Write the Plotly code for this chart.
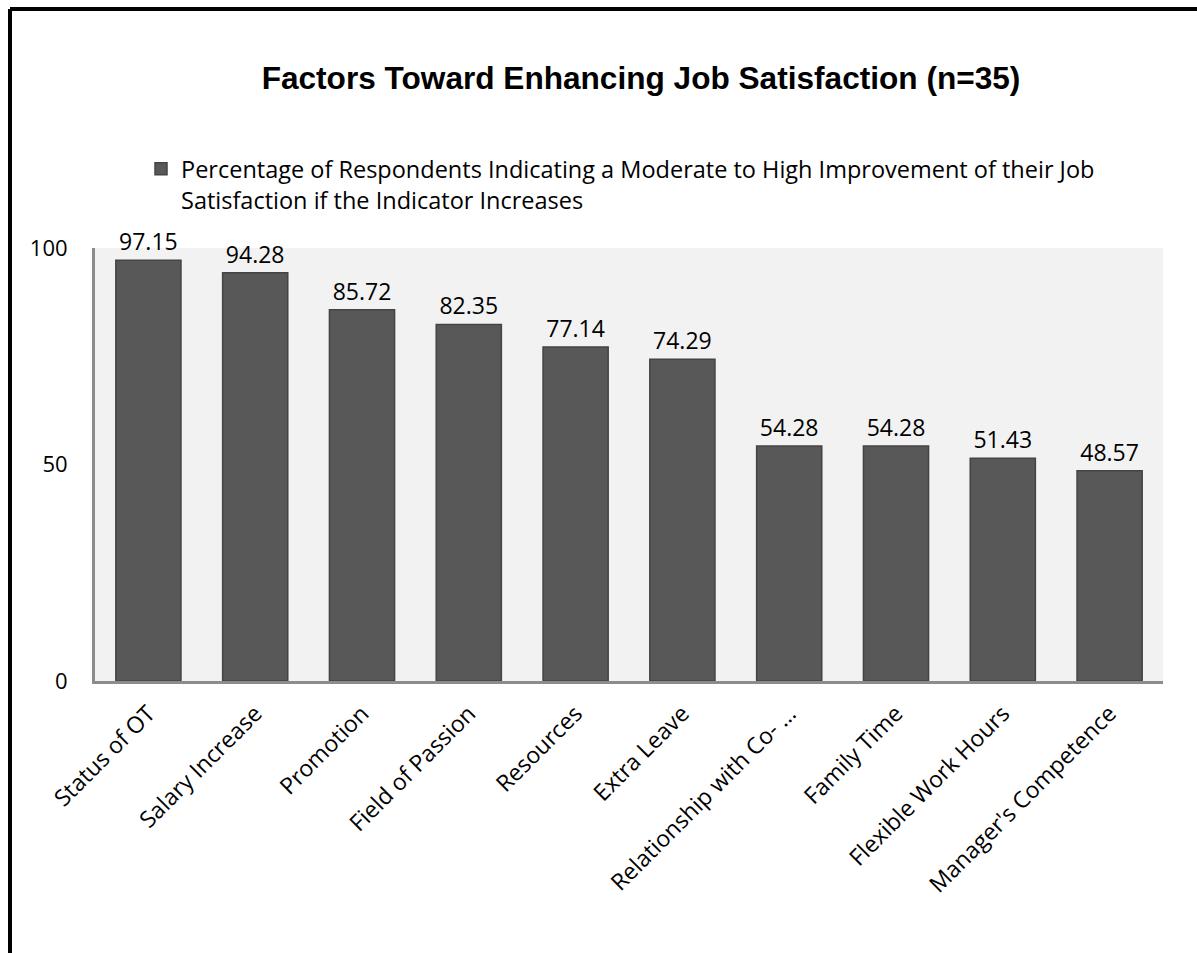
import plotly.graph_objects as go

# Survey results: share of respondents (n=35) reporting moderate-to-high improvement
factors = [
    "Status of OT",
    "Salary Increase",
    "Promotion",
    "Field of Passion",
    "Resources",
    "Extra Leave",
    "Relationship with Co- \u2026",
    "Family Time",
    "Flexible Work Hours",
    "Manager's Competence",
]
percentages = [97.15, 94.28, 85.72, 82.35, 77.14, 74.29, 54.28, 54.28, 51.43, 48.57]
series_name = (
    "Percentage of Respondents Indicating a Moderate to High Improvement of their Job"
    "<br>Satisfaction if the Indicator Increases"
)
y_ticks = [0, 50, 100]

W, H = 1197, 953
L, R, T, B = 95, 34, 248, 272
plot_w = W - L - R
plot_h = H - T - B

BODY_FONT = "Open Sans, Noto Sans, sans-serif"

fig = go.Figure()
fig.add_trace(
    go.Bar(
        x=factors,
        y=percentages,
        name=series_name,
        marker=dict(color="#585858", line=dict(color="#444444", width=1.5)),
        text=[f"{v:.2f}" for v in percentages],
        textposition="outside",
        textfont=dict(family=BODY_FONT, size=23, color="#000000"),
        cliponaxis=False,
    )
)


def px_to_paper_x(px):
    return (px - L) / plot_w


def px_to_paper_y(py):
    return (H - B - py) / plot_h


# Outer frame (left and top edges visible within the canvas)
frame_left = px_to_paper_x(10)
frame_top = px_to_paper_y(9)
fig.add_shape(type="line", xref="paper", yref="paper",
              x0=frame_left, x1=px_to_paper_x(W + 10), y0=frame_top, y1=frame_top,
              line=dict(color="#000000", width=4))
fig.add_shape(type="line", xref="paper", yref="paper",
              x0=frame_left, x1=frame_left, y0=frame_top, y1=px_to_paper_y(H + 10),
              line=dict(color="#000000", width=4))

fig.update_layout(
    width=W,
    height=H,
    margin=dict(l=L, r=R, t=T, b=B),
    paper_bgcolor="#ffffff",
    plot_bgcolor="#f2f2f2",
    bargap=0.39,
    title=dict(
        text="<b>Factors Toward Enhancing Job Satisfaction (n=35)</b>",
        x=641 / W,
        xanchor="center",
        y=1 - 78 / H,
        yanchor="middle",
        font=dict(family="Liberation Sans, Arial, sans-serif", size=31.6, color="#000000"),
    ),
    showlegend=True,
    legend=dict(
        orientation="h",
        x=px_to_paper_x(141),
        xanchor="left",
        y=px_to_paper_y(147),
        yanchor="top",
        valign="top",
        font=dict(family=BODY_FONT, size=23.5, color="#000000"),
        bgcolor="rgba(0,0,0,0)",
    ),
    xaxis=dict(
        tickangle=-45,
        tickfont=dict(family=BODY_FONT, size=23, color="#000000"),
        showline=True,
        linecolor="#8c8c8c",
        linewidth=3,
        ticks="outside",
        ticklen=7,
        tickcolor="rgba(0,0,0,0)",
        showgrid=False,
        zeroline=False,
        fixedrange=True,
    ),
    yaxis=dict(
        range=[0, 100],
        tickvals=y_ticks,
        tickfont=dict(family=BODY_FONT, size=22, color="#000000"),
        showline=True,
        linecolor="#8c8c8c",
        linewidth=3,
        ticks="outside",
        ticklen=20,
        tickcolor="rgba(0,0,0,0)",
        showgrid=False,
        zeroline=False,
        fixedrange=True,
    ),
)

fig.write_html("out.html")
